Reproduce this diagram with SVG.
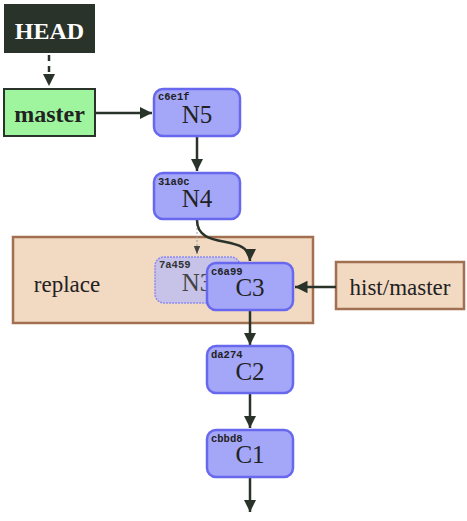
<svg xmlns="http://www.w3.org/2000/svg" width="467" height="521" viewBox="0 0 467 521">
<defs>
<style>
.node rect{fill:#a4a6f8;stroke:#6868ee;stroke-width:2.5}
.hash{font-family:"Liberation Mono",monospace;font-weight:bold;font-size:10.5px;fill:#222}
.lbl{font-family:"Liberation Serif",serif;font-size:25px;fill:#222;text-anchor:middle}
.ref{font-family:"Liberation Serif",serif;font-size:23px;fill:#222;text-anchor:middle}
.edge{fill:none;stroke:#2a3329;stroke-width:2.5}
</style>
<marker id="ah" viewBox="0 0 10 10" refX="10" refY="5" markerWidth="5" markerHeight="5" orient="auto" markerUnits="strokeWidth">
<path d="M0,0 L10,5 L0,10 z" fill="#2a3329"/>
</marker>
<marker id="ahs" viewBox="0 0 10 10" refX="10" refY="5" markerWidth="8" markerHeight="8" orient="auto" markerUnits="strokeWidth">
<path d="M0,1 L10,5 L0,9 z" fill="#444"/>
</marker>
</defs>
<rect width="467" height="521" fill="#fff"/>

<g id="cluster-replace">
<rect x="13" y="237" width="300" height="86" fill="#f2d9c2" stroke="#a07050" stroke-width="2.5"/>
<text class="ref" x="67" y="292">replace</text>
</g>

<g id="head">
<rect x="4" y="4" width="91" height="49" fill="#2a3329"/>
<text class="ref" x="49.5" y="39" style="fill:#fff;font-weight:bold;font-size:24px">HEAD</text>
</g>

<g id="master">
<rect x="4" y="89" width="91" height="47" fill="#9ef59e" stroke="#2a3329" stroke-width="2"/>
<text class="ref" x="49.5" y="122" style="font-weight:bold;font-size:24px">master</text>
</g>

<g id="hist-master">
<rect x="336" y="262" width="128" height="47" fill="#f2d9c2" stroke="#a07050" stroke-width="2.5"/>
<text class="ref" x="400" y="295">hist/master</text>
</g>

<g id="connectors">
<path class="edge" d="M49,55 V86" stroke-dasharray="6,5" marker-end="url(#ah)"/>
<path class="edge" d="M95,113 H152" marker-end="url(#ah)"/>
<path class="edge" d="M197,137 V171" marker-end="url(#ah)"/>
<path d="M197,220 V254" fill="none" stroke="#999" stroke-width="1" stroke-dasharray="2,2" marker-end="url(#ahs)"/>
<path class="edge" d="M197,220 C197,252 250,232 250,261" marker-end="url(#ah)"/>
<path class="edge" d="M336,287 H295" marker-end="url(#ah)"/>
<path class="edge" d="M250,311 V345" marker-end="url(#ah)"/>
<path class="edge" d="M250,394 V428" marker-end="url(#ah)"/>
<path class="edge" d="M250,478 V512" marker-end="url(#ah)"/>
</g>

<g id="N5" class="node">
<rect x="154" y="89" width="86" height="47" rx="9"/>
<text class="hash" x="158" y="100">c6e1f</text>
<text class="lbl" x="197" y="123">N5</text>
</g>

<g id="N4" class="node">
<rect x="154" y="173" width="86" height="46" rx="9"/>
<text class="hash" x="158" y="185">31a0c</text>
<text class="lbl" x="197" y="207">N4</text>
</g>

<g id="N3" class="node">
<rect x="155" y="257" width="85" height="46" rx="9" style="fill:#c6c2e8;stroke:#8c8cf2;stroke-width:1.5;stroke-dasharray:2,1"/>
<text class="hash" x="159" y="268" style="fill:#333">7a459</text>
<text class="lbl" x="197" y="291" style="fill:#444">N3</text>
</g>

<g id="C3" class="node">
<rect x="207" y="263" width="86" height="47" rx="9"/>
<text class="hash" x="211" y="275">c6a99</text>
<text class="lbl" x="250" y="296">C3</text>
</g>

<g id="C2" class="node">
<rect x="207" y="346" width="86" height="47" rx="9"/>
<text class="hash" x="211" y="358">da274</text>
<text class="lbl" x="250" y="380">C2</text>
</g>

<g id="C1" class="node">
<rect x="207" y="430" width="86" height="47" rx="9"/>
<text class="hash" x="211" y="442">cbbd8</text>
<text class="lbl" x="250" y="463">C1</text>
</g>
</svg>
